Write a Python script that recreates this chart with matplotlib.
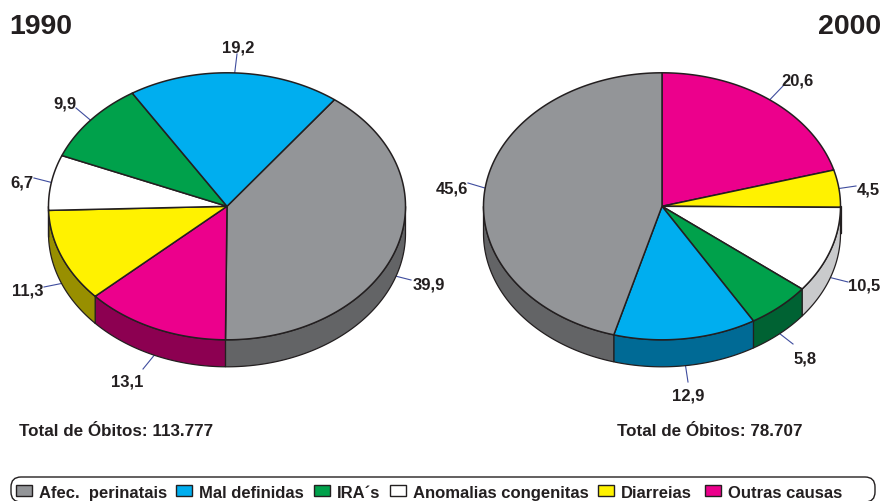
import numpy as np
import matplotlib
matplotlib.use('Agg')
import matplotlib.pyplot as plt
from matplotlib.patches import FancyBboxPatch, Rectangle

plt.rcParams['font.family'] = ['Liberation Sans', 'DejaVu Sans']

causas = ['Afec.  perinatais', 'Mal definidas', 'IRA´s',
          'Anomalias congenitas', 'Diarreias', 'Outras causas']
cores = {'Afec.  perinatais': '#939598', 'Mal definidas': '#00aeef', 'IRA´s': '#00a14b',
         'Anomalias congenitas': '#ffffff', 'Diarreias': '#fff200', 'Outras causas': '#ec008c'}
cores_lado = {'Afec.  perinatais': '#636466', 'Mal definidas': '#006a95', 'IRA´s': '#006233',
              'Anomalias congenitas': '#c9cacc', 'Diarreias': '#988f00', 'Outras causas': '#8c0051'}

# fatias em sentido horario, a partir do angulo inicial
ordem_1990 = ['Afec.  perinatais', 'Outras causas', 'Diarreias',
              'Anomalias congenitas', 'IRA´s', 'Mal definidas']
valores_1990 = [39.9, 13.1, 11.3, 6.7, 9.9, 19.2]
ordem_2000 = ['Outras causas', 'Diarreias', 'Anomalias congenitas',
              'IRA´s', 'Mal definidas', 'Afec.  perinatais']
valores_2000 = [20.6, 4.5, 10.5, 5.8, 12.9, 45.6]
total_1990 = '113.777'
total_2000 = '78.707'

RX, RY, ALTURA = 178.5, 133.5, 27
TINTA = '#231f20'
LINHA = '#3f4d9e'

# posicao do rotulo e fim da linha guia de cada fatia
rotulos_1990 = [(428.5, 285, 411, 281), (127, 382, 143, 370), (28, 291, 44, 288),
                (22, 183, 34, 179), (65, 104, 76, 109), (238, 48, 237, 55)]
rotulos_2000 = [(798, 81, 783, 87), (868, 190, 856, 187), (864, 286, 848, 283),
                (805, 359, 793, 345), (688, 396, 688, 383), (452, 189, 468, 184)]


def arco(cx, cy, a1, a2, dy=0):
    t = np.radians(np.linspace(a1, a2, 200))
    return cx + RX * np.cos(t), cy - RY * np.sin(t) + dy


def pizza(ax, cx, cy, ordem, valores, inicio, rotulos):
    valores = np.array(valores)
    angulos = inicio - np.concatenate([[0], np.cumsum(valores / valores.sum() * 360)])

    # lateral: so a parte da fatia na metade de baixo
    for i, nome in enumerate(ordem):
        a1, a2 = angulos[i], angulos[i + 1]
        for base in range(-720, 1, 360):
            s1 = min(a1, base)
            s2 = max(a2, base - 180)
            if s1 > s2:
                x, y = arco(cx, cy, s1, s2)
                xb, yb = arco(cx, cy, s2, s1, ALTURA)
                ax.fill(np.r_[x, xb], np.r_[y, yb], facecolor=cores_lado[nome],
                        edgecolor=TINTA, linewidth=0.9, zorder=2)

    # topo
    for i, nome in enumerate(ordem):
        x, y = arco(cx, cy, angulos[i], angulos[i + 1])
        ax.fill(np.r_[cx, x], np.r_[cy, y], facecolor=cores[nome], edgecolor=TINTA,
                linewidth=1.1, joinstyle='round', zorder=3)

    # rotulos com linha guia
    for i, (tx, ty, lx, ly) in enumerate(rotulos):
        meio = np.radians((angulos[i] + angulos[i + 1]) / 2)
        px = cx + RX * np.cos(meio)
        py = cy - RY * np.sin(meio)
        if np.sin(meio) < 0:
            py += ALTURA
        ax.plot([px, lx], [py, ly], color=LINHA, linewidth=0.8, zorder=1)
        ax.text(tx, ty, f'{valores[i]:.1f}'.replace('.', ','), ha='center', va='center',
                fontsize=12, fontweight='bold', color=TINTA, zorder=5)


fig = plt.figure(figsize=(8.81, 5.02), dpi=100)
ax = fig.add_axes([0, 0, 1, 1])
ax.set_xlim(0, 881)
ax.set_ylim(502, 0)
ax.axis('off')

pizza(ax, 227, 207.3, ordem_1990, valores_1990, 53, rotulos_1990)
pizza(ax, 662, 207.3, ordem_2000, valores_2000, 90, rotulos_2000)

ax.text(9, 27, '1990', fontsize=20.5, fontweight='bold', color=TINTA, va='center')
ax.text(881, 27, '2000', fontsize=20.5, fontweight='bold', color=TINTA, va='center', ha='right')
ax.text(19, 432, f'Total de Óbitos: {total_1990}', fontsize=12.25, fontweight='bold',
        color=TINTA, va='center')
ax.text(617, 432, f'Total de Óbitos: {total_2000}', fontsize=12.25, fontweight='bold',
        color=TINTA, va='center')

# legenda
ax.add_patch(FancyBboxPatch((11, 478), 864, 25, boxstyle='round,pad=0,rounding_size=10',
                            facecolor='white', edgecolor=TINTA, linewidth=1.0, zorder=1))
pos_legenda = [16, 176, 314, 390, 598, 705]
for nome, x in zip(causas, pos_legenda):
    ax.add_patch(Rectangle((x, 486), 16, 10.5, facecolor=cores[nome], edgecolor=TINTA,
                           linewidth=1.0, zorder=3))
    ax.text(x + 23, 494, nome, fontsize=12, fontweight='bold', color=TINTA,
            va='center', zorder=3)

fig.savefig('out.png', dpi=100)
